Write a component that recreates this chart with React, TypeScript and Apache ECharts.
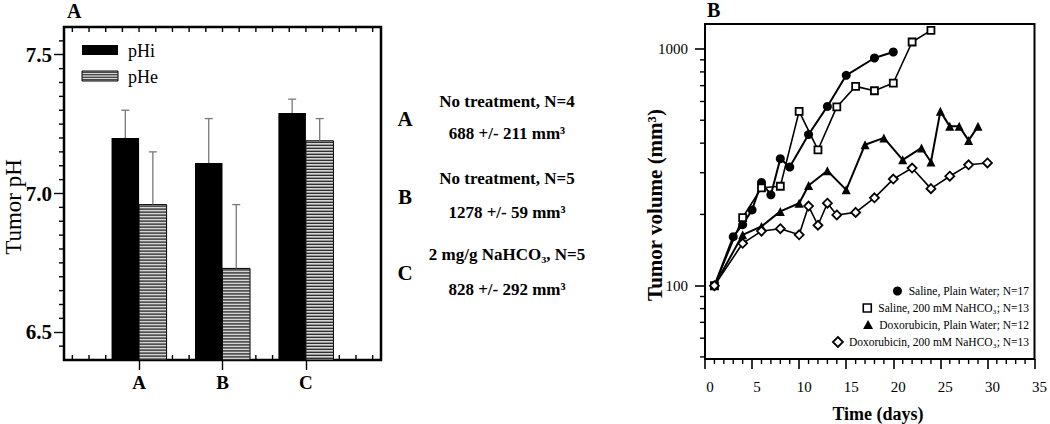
import React, { useEffect, useRef } from 'react';
import * as echarts from 'echarts';

// ---------- Panel A data ----------
const CATEGORIES = ['A', 'B', 'C'];
const CAT_POS = [1, 2, 3];
const PHI = [7.2, 7.11, 7.29];
const PHI_ERR_TOP = [7.3, 7.27, 7.34];
const PHE = [6.96, 6.73, 7.19];
const PHE_ERR_TOP = [7.15, 6.96, 7.27];
const A_Y_LABELS = [6.5, 7.0, 7.5];
const A_Y_MINOR = [6.45, 6.55, 6.6, 6.65, 6.7, 6.75, 6.8, 6.85, 6.9, 6.95, 7.05, 7.1, 7.15, 7.2, 7.25, 7.3, 7.35, 7.4, 7.45, 7.55];
const A_X_MINOR = [0.2, 0.4, 0.6, 0.8, 1.0, 1.2, 1.4, 1.6, 1.8, 2.0, 2.2, 2.4, 2.6, 2.8, 3.0, 3.2, 3.4, 3.6, 3.8];
const A_LEGEND = ['pHi', 'pHe'];
const NOTE_LINE1 = ['No treatment, N=4', 'No treatment, N=5', '2 mg/g NaHCO\u2083, N=5'];
const NOTE_LINE2 = ['688 +/- 211 mm\u00b3', '1278 +/- 59 mm\u00b3', '828 +/- 292 mm\u00b3'];

// ---------- Panel B data ----------
const SALINE_PLAIN_DAYS = [1, 3, 4, 5, 6, 7, 8, 9, 11, 13, 15, 18, 20];
const SALINE_PLAIN_VOL = [100, 161, 181, 209, 273, 242, 344, 317, 435, 572, 774, 916, 971];
const SALINE_BICARB_DAYS = [1, 4, 6, 8, 10, 12, 14, 16, 18, 20, 22, 24];
const SALINE_BICARB_VOL = [100, 194, 259, 263, 545, 375, 569, 695, 666, 718, 1070, 1198];
const DOXO_PLAIN_DAYS = [1, 4, 6, 8, 10, 11, 13, 15, 17, 19, 21, 23, 24, 25, 26, 27, 28, 29];
const DOXO_PLAIN_VOL = [100, 164, 178, 206, 223, 265, 306, 254, 394, 421, 340, 382, 333, 545, 471, 471, 411, 471];
const DOXO_BICARB_DAYS = [1, 4, 6, 8, 10, 11, 12, 13, 14, 16, 18, 20, 22, 24, 26, 28, 30];
const DOXO_BICARB_VOL = [100, 151, 170, 174, 164, 217, 180, 223, 199, 204, 235, 282, 314, 257, 290, 324, 330];
const B_LEGEND = [
  'Saline, Plain Water; N=17',
  'Saline, 200 mM NaHCO\u2083; N=13',
  'Doxorubicin, Plain Water; N=12',
  'Doxorubicin, 200 mM NaHCO\u2083; N=13',
];
const B_Y_LABELS = [100, 1000];
const B_Y_MINOR = [50, 60, 70, 80, 90, 200, 300, 400, 500, 600, 700, 800, 900];
const B_X_MINOR = [1, 2, 3, 4, 6, 7, 8, 9, 11, 12, 13, 14, 16, 17, 18, 19, 21, 22, 23, 24, 26, 27, 28, 29, 31, 32, 33, 34];

const SERIF = '"Liberation Serif", "Times New Roman", serif';
const A_X_MIN = 0.1;
const A_X_MAX = 3.9;
const A_Y_MIN = 6.4;
const A_Y_MAX = 7.6;
const B_X_MIN = 0;
const B_Y_MIN = 49;
const B_Y_MAX = 1275;
const BAR_W = 0.33;

const pairs = (xs: number[], ys: number[]) => xs.map((x, i) => [x, ys[i]]);

function stripeGroup(x: number, y: number, w: number, h: number, step: number) {
  const children: any[] = [
    { type: 'rect', shape: { x, y, width: w, height: h }, style: { fill: '#d4d4d4', stroke: '#000', lineWidth: 1 } },
  ];
  for (let yy = y + step / 2; yy < y + h; yy += step) {
    children.push({ type: 'line', shape: { x1: x, y1: yy, x2: x + w, y2: yy }, style: { stroke: '#1a1a1a', lineWidth: 1.2 } });
  }
  return children;
}

// custom series that draws tick marks through the axes' scales
function tickSeries(xIdx: number, yIdx: number, data: number[][], dx: number, dy: number, width: number) {
  return {
    type: 'custom', xAxisIndex: xIdx, yAxisIndex: yIdx, clip: false, silent: true, z: 1,
    data,
    renderItem: (_p: any, api: any) => {
      const p = api.coord([api.value(0), api.value(1)]);
      return { type: 'line', shape: { x1: p[0], y1: p[1], x2: p[0] + dx, y2: p[1] + dy }, style: { stroke: '#000', lineWidth: width } };
    },
  };
}

export default function App() {
  const ref = useRef<HTMLDivElement>(null);
  useEffect(() => {
    if (!ref.current) return;
    const chart = echarts.init(ref.current, undefined, { renderer: 'svg' });

    const canvas = document.createElement('canvas');
    const ctx = canvas.getContext('2d')!;
    const legFont = 11.5;
    ctx.font = `${legFont}px "Liberation Serif"`;
    const LEG_RIGHT = 1029;
    const LEG_Y = [291, 308, 325, 342];

    const txt = (x: number, y: number, text: string, size: number, bold: boolean, align: string, rotation = 0) => ({
      type: 'text', x, y, rotation,
      style: { text, fontSize: size, fontWeight: bold ? 'bold' : 'normal', fontFamily: SERIF, fill: '#000', textAlign: align, textVerticalAlign: 'middle', align, verticalAlign: 'middle' },
    });

    const graphics: any[] = [];
    graphics.push(txt(67, 11, 'A', 20, true, 'left'));
    graphics.push(txt(707, 10, 'B', 20, true, 'left'));
    graphics.push(txt(13, 207, 'Tumor pH', 23, false, 'center', Math.PI / 2));
    graphics.push(txt(655, 205, 'Tumor volume (mm\u00b3)', 21, true, 'center', Math.PI / 2));
    graphics.push(txt(878, 414, 'Time (days)', 18, true, 'center'));

    // Panel A legend
    graphics.push({ type: 'rect', shape: { x: 82, y: 45, width: 36, height: 10 }, style: { fill: '#000' } });
    graphics.push({ type: 'group', children: stripeGroup(82, 71, 36, 10, 2.5) });
    graphics.push(txt(128, 51, A_LEGEND[0], 18, false, 'left'));
    graphics.push(txt(128, 77, A_LEGEND[1], 18, false, 'left'));

    // Panel A notes
    const noteY1 = [101, 178, 254];
    const noteYL = [119, 197, 273];
    const noteY2 = [133, 212, 289];
    CATEGORIES.forEach((c, i) => {
      graphics.push(txt(405, noteYL[i], c, 21, true, 'center'));
      graphics.push(txt(507, noteY1[i], NOTE_LINE1[i], 17, true, 'center'));
      graphics.push(txt(507, noteY2[i], NOTE_LINE2[i], 17, true, 'center'));
    });

    // Panel B legend
    B_LEGEND.forEach((t, i) => {
      const w = ctx.measureText(t).width;
      const y = LEG_Y[i];
      const sx = LEG_RIGHT - w - 11;
      graphics.push({ ...txt(LEG_RIGHT, y, t, legFont, false, 'right') });
      if (i === 0) graphics.push({ type: 'circle', shape: { cx: sx, cy: y, r: 4.5 }, style: { fill: '#000' } });
      if (i === 1) graphics.push({ type: 'rect', shape: { x: sx - 4, y: y - 4, width: 8, height: 8 }, style: { fill: '#fff', stroke: '#000', lineWidth: 1.6 } });
      if (i === 2) graphics.push({ type: 'polygon', shape: { points: [[sx, y - 5], [sx + 5, y + 4], [sx - 5, y + 4]] }, style: { fill: '#000' } });
      if (i === 3) graphics.push({ type: 'polygon', shape: { points: [[sx, y - 5], [sx + 5, y], [sx, y + 5], [sx - 5, y]] }, style: { fill: '#fff', stroke: '#000', lineWidth: 1.8 } });
    });

    const tickStyle = { color: '#000', width: 1.4 };
    const hiddenLine = { show: false, onZero: false };

    const option: any = {
      animation: false,
      backgroundColor: '#fff',
      grid: [
        { left: 64, top: 27, width: 317, height: 333, show: true, borderColor: '#000', borderWidth: 2.5, containLabel: false },
        { left: 705, top: 24, width: 333, height: 335, show: true, borderColor: '#000', borderWidth: 2, containLabel: false },
      ],
      xAxis: [
        {
          gridIndex: 0, type: 'value', min: A_X_MIN, max: A_X_MAX, position: 'bottom',
          axisLine: hiddenLine, splitLine: { show: false },
          axisTick: { show: true, customValues: CAT_POS, length: 10, lineStyle: tickStyle },
          axisLabel: { show: true, customValues: CAT_POS, formatter: (v: number) => CATEGORIES[Math.round(v) - 1] || '', fontSize: 19, fontWeight: 'bold', fontFamily: SERIF, color: '#000', margin: 13 },
        },
        {
          gridIndex: 1, type: 'value', min: B_X_MIN, max: 35, interval: 5, position: 'bottom',
          axisLine: hiddenLine, splitLine: { show: false },
          axisTick: { show: true, length: 10, lineStyle: { color: '#000', width: 1.6 } },
          axisLabel: { fontSize: 15, fontFamily: SERIF, color: '#000', margin: 20, padding: [0, 0, 0, 10] },
        },
      ],
      yAxis: [
        {
          gridIndex: 0, type: 'value', min: A_Y_MIN, max: A_Y_MAX, position: 'left',
          axisLine: hiddenLine, splitLine: { show: false },
          axisTick: { show: true, customValues: A_Y_LABELS, length: 10, lineStyle: tickStyle },
          axisLabel: { show: true, customValues: A_Y_LABELS, formatter: (v: number) => v.toFixed(1), fontSize: 21, fontWeight: 'bold', fontFamily: SERIF, color: '#000', margin: 12 },
        },
        {
          gridIndex: 1, type: 'log', logBase: 10, min: B_Y_MIN, max: B_Y_MAX, position: 'left',
          axisLine: hiddenLine, splitLine: { show: false },
          axisTick: { show: true, customValues: B_Y_LABELS, length: 10, lineStyle: { color: '#000', width: 1.6 } },
          axisLabel: { show: true, customValues: B_Y_LABELS, formatter: (v: number) => String(Math.round(v)), fontSize: 15, fontFamily: SERIF, color: '#000', margin: 17 },
        },
      ],
      series: [
        // minor ticks (drawn through the axes' scales)
        tickSeries(0, 0, A_Y_MINOR.map((v) => [A_X_MIN, v]), -5, 0, 1.4),
        tickSeries(0, 0, A_X_MINOR.map((v) => [v, A_Y_MAX]), 0, 5, 1.4),
        tickSeries(0, 0, A_X_MINOR.map((v) => [v, A_Y_MIN]), 0, -5, 1.4),
        tickSeries(1, 1, B_Y_MINOR.map((v) => [B_X_MIN, v]), -5, 0, 1.4),
        tickSeries(1, 1, B_X_MINOR.map((v) => [v, B_Y_MIN]), 0, 5, 1.4),
        {
          name: 'pHi', type: 'custom', xAxisIndex: 0, yAxisIndex: 0, z: 2,
          data: pairs(CAT_POS, PHI),
          renderItem: (_p: any, api: any) => {
            const x = api.value(0), v = api.value(1);
            const tl = api.coord([x - BAR_W, v]);
            const br = api.coord([x, A_Y_MIN]);
            return { type: 'rect', shape: { x: tl[0], y: tl[1], width: br[0] - tl[0], height: br[1] - tl[1] }, style: { fill: '#000' } };
          },
        },
        {
          name: 'pHe', type: 'custom', xAxisIndex: 0, yAxisIndex: 0, z: 2,
          data: pairs(CAT_POS, PHE),
          renderItem: (_p: any, api: any) => {
            const x = api.value(0), v = api.value(1);
            const tl = api.coord([x, v]);
            const br = api.coord([x + BAR_W, A_Y_MIN]);
            return { type: 'group', children: stripeGroup(tl[0], tl[1], br[0] - tl[0], br[1] - tl[1], 3) };
          },
        },
        {
          name: 'error', type: 'custom', xAxisIndex: 0, yAxisIndex: 0, z: 3,
          data: [
            ...CAT_POS.map((c, i) => [c - BAR_W / 2, PHI[i], PHI_ERR_TOP[i]]),
            ...CAT_POS.map((c, i) => [c + BAR_W / 2, PHE[i], PHE_ERR_TOP[i]]),
          ],
          renderItem: (_p: any, api: any) => {
            const x = api.value(0);
            const p0 = api.coord([x, api.value(1)]);
            const p1 = api.coord([x, api.value(2)]);
            return {
              type: 'group',
              children: [
                { type: 'line', shape: { x1: p0[0], y1: p0[1], x2: p1[0], y2: p1[1] }, style: { stroke: '#777', lineWidth: 1.3 } },
                { type: 'line', shape: { x1: p1[0] - 4, y1: p1[1], x2: p1[0] + 4, y2: p1[1] }, style: { stroke: '#777', lineWidth: 1.3 } },
              ],
            };
          },
        },
        {
          name: B_LEGEND[0], type: 'line', xAxisIndex: 1, yAxisIndex: 1, z: 3,
          data: pairs(SALINE_PLAIN_DAYS, SALINE_PLAIN_VOL),
          symbol: 'circle', symbolSize: 9,
          lineStyle: { color: '#000', width: 2 }, itemStyle: { color: '#000' },
        },
        {
          name: B_LEGEND[1], type: 'line', xAxisIndex: 1, yAxisIndex: 1, z: 3,
          data: pairs(SALINE_BICARB_DAYS, SALINE_BICARB_VOL),
          symbol: 'rect', symbolSize: 7,
          lineStyle: { color: '#000', width: 1.6 }, itemStyle: { color: '#fff', borderColor: '#000', borderWidth: 1.8 },
        },
        {
          name: B_LEGEND[2], type: 'line', xAxisIndex: 1, yAxisIndex: 1, z: 3,
          data: pairs(DOXO_PLAIN_DAYS, DOXO_PLAIN_VOL),
          symbol: 'triangle', symbolSize: 9,
          lineStyle: { color: '#000', width: 2 }, itemStyle: { color: '#000' },
        },
        {
          name: B_LEGEND[3], type: 'line', xAxisIndex: 1, yAxisIndex: 1, z: 3,
          data: pairs(DOXO_BICARB_DAYS, DOXO_BICARB_VOL),
          symbol: 'diamond', symbolSize: 9,
          lineStyle: { color: '#000', width: 1.6 }, itemStyle: { color: '#fff', borderColor: '#000', borderWidth: 1.8 },
        },
      ],
      graphic: { elements: graphics },
    };
    chart.setOption(option);
    return () => chart.dispose();
  }, []);
  return <div ref={ref} style={{ position: 'fixed', left: 0, top: 0, width: 1050, height: 424 }} />;
}
